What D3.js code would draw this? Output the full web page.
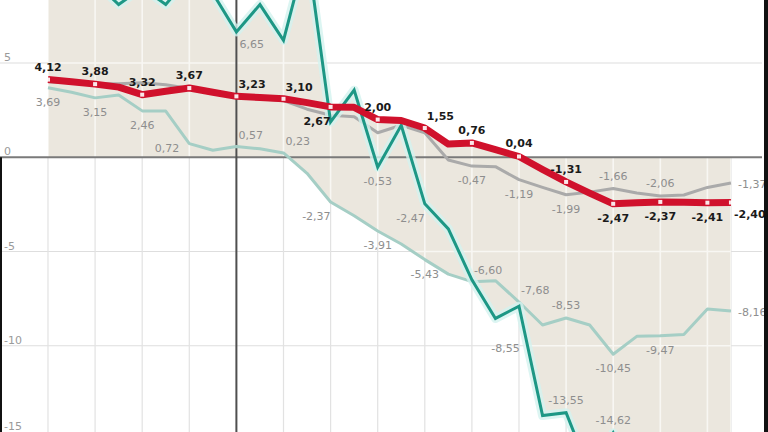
<!DOCTYPE html>
<html><head><meta charset="utf-8">
<script src="https://cdn.jsdelivr.net/npm/d3@7"></script>
<style>html,body{margin:0;padding:0;background:#fff;}svg{display:block;}</style>
</head><body>
<script>
// ---- data ----
const periods = ["P01","P02","P03","P04","P05","P06","P07","P08","P09","P10","P11","P12","P13","P14","P15","P16","P17","P18","P19","P20","P21","P22","P23","P24","P25","P26","P27","P28","P29","P30"];
const redSeries = [4.12,4.00,3.88,3.72,3.32,3.50,3.67,3.45,3.23,3.17,3.10,2.90,2.67,2.65,2.00,1.95,1.55,0.70,0.76,0.40,0.04,-0.65,-1.31,-1.90,-2.47,-2.42,-2.37,-2.39,-2.41,-2.40];
const graySeries = [4.00,3.95,3.90,3.90,3.95,3.85,3.65,3.45,3.20,3.10,3.00,2.55,2.23,2.15,1.30,1.70,1.30,-0.15,-0.47,-0.50,-1.19,-1.60,-1.99,-1.85,-1.66,-1.90,-2.06,-2.00,-1.60,-1.37];
const lightTealSeries = [3.69,3.45,3.15,3.30,2.46,2.45,0.72,0.37,0.57,0.45,0.23,-0.85,-2.37,-3.10,-3.91,-4.60,-5.43,-6.20,-6.60,-6.55,-7.68,-8.90,-8.53,-8.90,-10.45,-9.50,-9.47,-9.40,-8.05,-8.16];
const darkTealSeries = [10.2,9.6,9.3,8.1,9.0,8.1,9.6,8.7,6.65,8.1,6.2,11.0,1.87,3.56,-0.53,1.70,-2.47,-3.80,-6.50,-8.55,-7.90,-13.70,-13.55,-16.70,-14.62,-17.0,-18.0,-17.5,-18.5,-18.0];
const yTicks = [5,0,-5,-10,-15];
const yTickLabels = ["5","0","-5","-10","-15"];
const gridPeriods = ["P01","P03","P05","P07","P09","P11","P13","P15","P17","P19","P21","P23","P25","P27","P29","P30"];
const markerPeriod = "P09";
// labelled points (period index) and label side keywords
const redLabelIdx = [0,2,4,6,8,10,12,14,16,18,20,22,24,26,28,29];
const redLabelSide = ["t","t","t","t","tr","tr","bl","t","tr","t","t","t","b","b","b","br"];
const grayLabelIdx = [18,20,22,24,26,29];
const grayLabelSide = ["b","b","b","t","t","r"];
const lightLabelIdx = [0,2,4,6,8,10,12,14,16,18,20,22,24,26,29];
const lightLabelSide = ["b","b","b","l","tr","tr","bl","b","b","tr","tr","t","b","b","r"];
const darkLabelIdx = [8,14,16,19,22,24];
const darkLabelSide = ["br","b","bl","b2","t","t"];

// ---- layout ----
const W = 768, H = 432;
const svg = d3.select("body").append("svg").attr("width", W).attr("height", H);
const x = d3.scalePoint().domain(periods).range([48, 48 + 29 * 23.55]);
const y = d3.scaleLinear().domain([-15, 5]).range([440, 63]);
const xi = i => x(periods[i]);

const allSeries = [redSeries, graySeries, lightTealSeries, darkTealSeries];
// envelope between zero and extreme series values (sampled along segments)
const env = [];
for (let i = 0; i < periods.length - 1; i++) {
  for (let k = 0; k < 8; k++) {
    const f = k / 8;
    const vals = allSeries.map(s => s[i] + (s[i + 1] - s[i]) * f);
    env.push({ px: xi(i) + (xi(i + 1) - xi(i)) * f, hi: Math.max(0, d3.max(vals)), lo: Math.min(0, d3.min(vals)) });
  }
}
{
  const last = periods.length - 1;
  const vals = allSeries.map(s => s[last]);
  env.push({ px: xi(last), hi: Math.max(0, d3.max(vals)), lo: Math.min(0, d3.min(vals)) });
}
const areaGen = d3.area().x(d => d.px).y0(d => y(d.lo)).y1(d => y(d.hi));

// gray gridlines (white region)
const grid = svg.append("g");
yTicks.filter(v => v !== 0).forEach(v => {
  grid.append("line").attr("x1", 0).attr("x2", 762).attr("y1", y(v)).attr("y2", y(v))
    .attr("stroke", "#dedede").attr("stroke-width", 1.2);
});
gridPeriods.forEach(p => {
  grid.append("line").attr("x1", x(p)).attr("x2", x(p)).attr("y1", y(0)).attr("y2", H)
    .attr("stroke", "#e2e2e2").attr("stroke-width", 1.2);
});

// beige envelope
svg.append("path").datum(env).attr("d", areaGen).attr("fill", "#ebe7de");
svg.append("clipPath").attr("id", "envclip").append("path").datum(env).attr("d", areaGen);
const wgrid = svg.append("g").attr("clip-path", "url(#envclip)");
yTicks.filter(v => v !== 0).forEach(v => {
  wgrid.append("line").attr("x1", 0).attr("x2", 762).attr("y1", y(v)).attr("y2", y(v))
    .attr("stroke", "#f8f7f3").attr("stroke-width", 1.4);
});
gridPeriods.forEach(p => {
  wgrid.append("line").attr("x1", x(p)).attr("x2", x(p)).attr("y1", 0).attr("y2", H)
    .attr("stroke", "#f8f7f3").attr("stroke-width", 1.6);
});

// y labels
svg.append("g").selectAll("text").data(yTicks).join("text")
  .attr("x", 4).attr("y", d => Math.min(y(d) - 2, H - 2))
  .attr("font-family", "DejaVu Sans, sans-serif").attr("font-size", 11)
  .attr("fill", "#9a9a9a").text((d, i) => yTickLabels[i]);

// axes lines
svg.append("line").attr("x1", 0).attr("x2", 762).attr("y1", y(0)).attr("y2", y(0))
  .attr("stroke", "#7a7a7a").attr("stroke-width", 2);
svg.append("line").attr("x1", x(markerPeriod)).attr("x2", x(markerPeriod)).attr("y1", 0).attr("y2", H)
  .attr("stroke", "#4f4f4f").attr("stroke-width", 2);

// series lines
const lineGen = d3.line().x((d, i) => xi(i)).y(d => y(d));
svg.append("path").datum(lightTealSeries).attr("d", lineGen).attr("fill", "none")
  .attr("stroke", "#a5cec5").attr("stroke-width", 3).attr("stroke-linejoin", "round");
svg.append("path").datum(graySeries).attr("d", lineGen).attr("fill", "none")
  .attr("stroke", "#aaaaaa").attr("stroke-width", 3).attr("stroke-linejoin", "round");
svg.append("path").datum(darkTealSeries).attr("d", lineGen).attr("fill", "none")
  .attr("stroke", "#d3f2ef").attr("stroke-width", 9).attr("stroke-linejoin", "round").attr("stroke-opacity", 0.8);
svg.append("path").datum(darkTealSeries).attr("d", lineGen).attr("fill", "none")
  .attr("stroke", "#1d9785").attr("stroke-width", 3).attr("stroke-linejoin", "miter");
svg.append("path").datum(redSeries).attr("d", lineGen).attr("fill", "none")
  .attr("stroke", "#d0112c").attr("stroke-width", 7).attr("stroke-linejoin", "round");
svg.append("g").selectAll("rect").data(redLabelIdx).join("rect")
  .attr("x", i => xi(i) - 2).attr("y", i => y(redSeries[i]) - 2)
  .attr("width", 4).attr("height", 4).attr("fill", "#fff").attr("opacity", 0.9);

// labels
const fmt = v => v.toFixed(2).replace(".", ",");
const side = {
  t: ["middle", 0, -9], b: ["middle", 0, 18], tr: ["start", 2, -8], br: ["start", 3, 16],
  bl: ["end", 0, 18], l: ["end", -10, 8], r: ["start", 7, 5], b2: ["middle", 10, 34]
};
function labels(series, idx, sides, color, weight) {
  svg.append("g").selectAll("text").data(idx).join("text")
    .attr("x", (i, k) => xi(i) + side[sides[k]][1])
    .attr("y", (i, k) => y(series[i]) + side[sides[k]][2])
    .attr("text-anchor", (i, k) => side[sides[k]][0])
    .attr("font-family", "DejaVu Sans, sans-serif").attr("font-size", 11)
    .attr("font-weight", weight).attr("fill", color)
    .text(i => fmt(series[i]));
}
labels(lightTealSeries, lightLabelIdx, lightLabelSide, "#8e8e8e", "normal");
labels(darkTealSeries, darkLabelIdx, darkLabelSide, "#8e8e8e", "normal");
labels(graySeries, grayLabelIdx, grayLabelSide, "#8e8e8e", "normal");
labels(redSeries, redLabelIdx, redLabelSide, "#1a1a1a", "bold");

// frame edges
svg.append("rect").attr("x", 0).attr("y", y(0)).attr("width", 2).attr("height", H - y(0)).attr("fill", "#111");
svg.append("rect").attr("x", 764).attr("y", 0).attr("width", 4).attr("height", H).attr("fill", "#111");
</script>
</body></html>
